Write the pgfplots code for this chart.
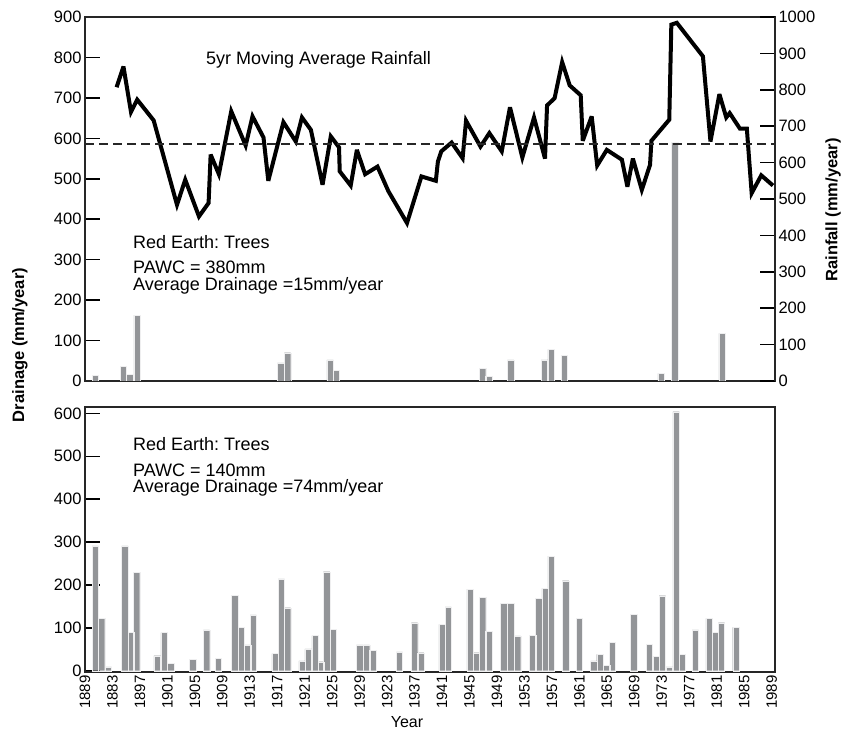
\documentclass[border=0pt]{standalone}
\usepackage{pgfplots}
\pgfplotsset{compat=1.18}
\usepackage{fontspec}
\setmainfont{Liberation Sans}
\frenchspacing
\definecolor{barcol}{RGB}{147,149,152}
\newcommand{\tickfont}{\fontsize{16.5}{19}\selectfont}
\newcommand{\xtickfont}{\fontsize{15}{17}\selectfont}
\newcommand{\annfont}{\fontsize{18}{21}\selectfont}
\newcommand{\labfont}{\fontsize{16.5}{19}\selectfont\bfseries}

\begin{document}
\begin{tikzpicture}
\path[use as bounding box] (0pt,0pt) rectangle (844pt,-731pt);

\pgfplotsset{
  common/.style={
    scale only axis, anchor=north west,
    width=690pt,
    xmin=1889, xmax=1989.5,
    tick align=inside,
    major tick length=15pt,
    tick style={line width=1.5pt, black},
    axis line style={line width=2.5pt, black!85},
    /pgf/number format/assume math mode=true,
    /pgf/number format/1000 sep={},
    yticklabel style={font=\tickfont},
  },
  bars/.style={ybar, bar width=0.93, fill=barcol, draw=white!85!barcol, line width=0.3pt},
}

% ---------------- top panel: drainage (left axis) ----------------
\begin{axis}[common,
  at={(85pt,-17pt)}, height=364pt,
  ymin=0, ymax=900,
  xtick=\empty,
  ytick={0,100,...,900},
  ytick pos=left,
]
\addplot[bars] table {
x y
1890.5 14
1894.6 37
1895.5 17
1896.6 163
1917.5 45
1918.5 70
1924.7 52
1925.6 26
1946.9 32
1947.8 12
1951.0 52
1955.9 52
1956.9 78
1958.8 63
1972.9 19
1974.9 590
1981.8 118
};
\end{axis}

% ---------------- top panel: rainfall (right axis) ----------------
\begin{axis}[common,
  at={(85pt,-17pt)}, height=364pt,
  ymin=0, ymax=1000,
  axis x line=none,
  axis y line*=right,
  ytick={0,100,...,1000},
  yticklabel style={anchor=west},
]
\addplot[black, line width=4pt, line join=miter, miter limit=4] table {
x y
1893.6 807
1894.6 864
1895.7 739
1896.6 773
1899.0 716
1902.4 484
1903.6 553
1905.6 452
1907.0 489
1907.3 622
1908.5 568
1910.3 741
1912.4 647
1913.4 727
1915.0 669
1915.7 550
1917.9 711
1919.7 658
1920.6 724
1921.9 690
1923.6 539
1924.8 672
1926.0 642
1926.1 576
1927.7 537
1928.6 635
1929.8 568
1931.6 589
1933.2 521
1935.9 434
1938.0 562
1940.1 550
1940.4 603
1940.9 631
1942.4 655
1944.0 612
1944.5 715
1946.6 644
1947.9 681
1949.7 631
1950.9 752
1952.7 614
1954.4 724
1956.0 611
1956.3 757
1957.4 777
1958.5 876
1959.6 812
1961.2 785
1961.5 660
1962.8 727
1963.6 592
1965.0 635
1967.2 608
1968.0 534
1968.8 611
1970.1 525
1971.3 594
1971.5 660
1974.1 718
1974.4 979
1975.2 984
1979.0 892
1980.1 658
1981.4 788
1982.4 724
1982.9 736
1984.4 693
1985.4 693
1986.1 516
1987.5 565
1989.2 537
};
\addplot[black!85, line width=2pt, dash pattern=on 9pt off 5pt] coordinates {(1889,650) (1989.5,650)};
\end{axis}

% ---------------- bottom panel ----------------
\begin{axis}[common,
  at={(85pt,-407pt)}, height=265pt,
  ymin=-3, ymax=615,
  ytick={0,100,...,600},
  ytick pos=left,
  xtick={1889,1893,...,1989},
  xticklabels={1889,1883,1897,1901,1905,1909,1913,1917,1921,1925,1929,1923,1937,1941,1945,1949,1953,1957,1961,1965,1969,1973,1977,1981,1985,1989},
  xtick style={draw=none},
  xticklabel style={font=\xtickfont, rotate=90, anchor=east},
]
\addplot[bars] table {
x y
1890.5 291
1891.4 122
1892.4 9
1894.8 291
1895.7 89
1896.5 229
1899.5 35
1900.5 89
1901.5 17
1904.7 27
1906.7 95
1908.4 29
1910.8 176
1911.7 101
1912.7 60
1913.5 130
1916.7 40
1917.6 214
1918.5 147
1920.6 23
1921.5 51
1922.5 82
1923.4 21
1924.2 231
1925.1 96
1929.0 60
1930.0 60
1930.9 47
1934.8 44
1937.0 112
1937.9 42
1941.0 108
1941.9 149
1945.1 190
1946.0 42
1946.9 171
1947.8 92
1950.0 157
1951.0 157
1952.0 81
1954.2 83
1955.1 169
1956.0 192
1956.9 267
1959.0 210
1961.0 122
1963.1 23
1964.0 38
1965.0 12
1965.8 66
1968.9 131
1971.2 61
1972.2 34
1973.1 175
1974.1 9
1975.1 604
1976.0 38
1977.9 95
1979.9 122
1980.8 89
1981.7 112
1983.8 101
};
\end{axis}

% ---------------- texts ----------------
\node[anchor=west, font=\annfont, inner sep=0pt] at (206pt,-60pt) {5yr Moving Average Rainfall};
\node[anchor=west, font=\annfont, inner sep=0pt] at (133pt,-242pt) {Red Earth: Trees};
\node[anchor=west, font=\annfont, inner sep=0pt] at (133pt,-267pt) {PAWC = 380mm};
\node[anchor=west, font=\annfont, inner sep=0pt] at (133pt,-286pt) {Average Drainage =15mm/year};
\node[anchor=west, font=\annfont, inner sep=0pt] at (133pt,-444pt) {Red Earth: Trees};
\node[anchor=west, font=\annfont, inner sep=0pt] at (133pt,-470pt) {PAWC = 140mm};
\node[anchor=west, font=\annfont, inner sep=0pt] at (133pt,-488pt) {Average Drainage =74mm/year};
\node[rotate=90, font=\labfont, inner sep=0pt] at (20pt,-345pt) {Drainage (mm/year)};
\node[rotate=90, font=\labfont, inner sep=0pt] at (833pt,-210pt) {Rainfall (mm/year)};
\node[font=\fontsize{16}{19}\selectfont, inner sep=0pt] at (407pt,-722pt) {Year};
\end{tikzpicture}
\end{document}
